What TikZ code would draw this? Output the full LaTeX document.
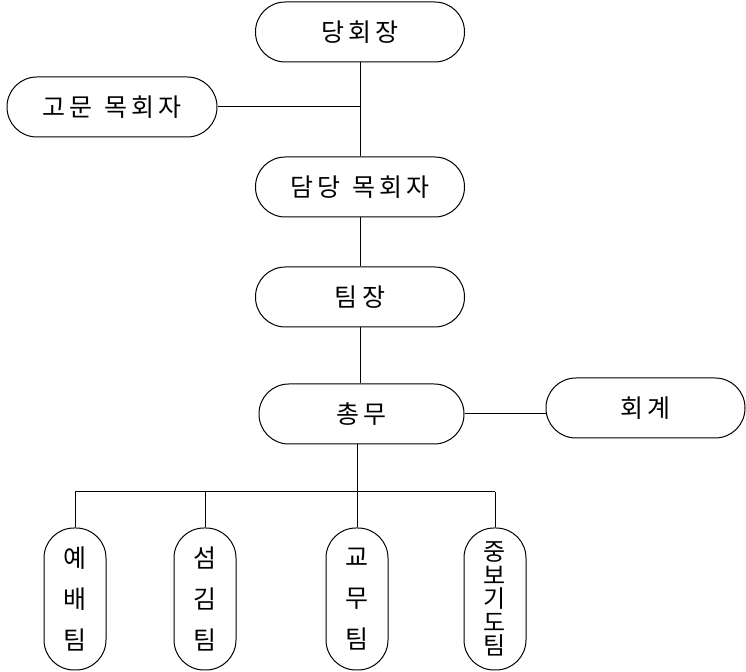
\documentclass[tikz,border=0pt]{standalone}
\usepackage{fontspec}
\newfontfamily\kr{Noto Sans CJK KR}
\begin{document}
\begin{tikzpicture}[x=0.5pt,y=-0.5pt,
  box/.style={draw, line width=0.5pt, rounded corners=14.9pt, minimum width=104.5pt, minimum height=30pt, inner sep=0pt, font=\kr\fontsize{12.5}{15}\selectfont},
  pill/.style={draw, line width=0.5pt, rounded corners=15pt, minimum width=31pt, minimum height=71pt, inner sep=0pt, align=center, font=\kr\fontsize{12.5}{20.5}\selectfont},
  conn/.style={line width=0.5pt}]
\useasboundingbox (0,0) rectangle (746,672);
\node[box] (dh) at (360,32) {당\,회\,장};
\node[box, minimum width=105pt] (gm) at (112,107) {고\,문\ \ 목\,회\,자};
\node[box] (dd) at (360,187) {담\,당\ \ 목\,회\,자};
\node[box] (tj) at (360,297) {팀\,장};
\node[box, minimum width=102.5pt] (cm) at (361.5,414) {총\,무};
\node[box, minimum width=99.5pt] (hg) at (645.5,408) {회\,계};
\node[pill] (yb) at (75,599) {예\\배\\팀};
\node[pill] (sg) at (205,599) {섬\\김\\팀};
\node[pill] (gw) at (357,599) {교\\무\\팀};
\node[pill, font=\kr\fontsize{12}{11.7}\selectfont] (jb) at (495,599) {중\\보\\기\\도\\팀};
\coordinate (bus) at (357,492);
\draw[conn] (dh.south) -- (dd.north);
\draw[conn] (gm.east) -- (gm.east -| dh.south);
\draw[conn] (dd.south) -- (tj.north);
\draw[conn] (tj.south) -- (tj.south |- cm.north);
\draw[conn] (cm.east) -- (cm.east -| hg.west);
\draw[conn] (gw.north |- cm.south) -- (bus);
\draw[conn] (yb.north |- bus) -- (jb.north |- bus);
\draw[conn] (yb.north) -- (yb.north |- bus);
\draw[conn] (sg.north) -- (sg.north |- bus);
\draw[conn] (gw.north) -- (gw.north |- bus);
\draw[conn] (jb.north) -- (jb.north |- bus);
\end{tikzpicture}
\end{document}
